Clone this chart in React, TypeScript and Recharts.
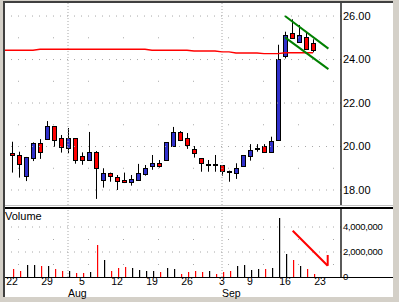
import { Bar, ComposedChart, Line, ReferenceLine, XAxis, YAxis } from "recharts";

// trading days, first one only carries the moving average (left edge)
const days = [
  "Jul 19", "Jul 22", "Jul 23", "Jul 24", "Jul 25", "Jul 26", "Jul 29", "Jul 30", "Jul 31",
  "Aug 1", "Aug 2", "Aug 5", "Aug 6", "Aug 7", "Aug 8", "Aug 9", "Aug 12", "Aug 13", "Aug 14",
  "Aug 15", "Aug 16", "Aug 19", "Aug 20", "Aug 21", "Aug 22", "Aug 23", "Aug 26", "Aug 27",
  "Aug 28", "Aug 29", "Aug 30", "Sep 3", "Sep 4", "Sep 5", "Sep 6", "Sep 9", "Sep 10", "Sep 11",
  "Sep 12", "Sep 13", "Sep 16", "Sep 17", "Sep 18", "Sep 19", "Sep 20",
];

const opens = [
  null, 19.69, 19.61, 18.66, 19.49, 20.15, 20.36, 20.93, 20.39, 19.92, 20.39, 19.55, 19.36, 19.73,
  18.48, 18.77, 18.61, 18.44, 18.38, 18.48, 18.75, 19.12, 19.24, 19.39, 20.04, 20.65, 20.39, 19.89,
  19.46, 19.17, 19.2, 19.15, 18.88, 18.77, 19.1, 19.58, 19.89, 20.01, 19.76, 20.28, 24.16, 25.2,
  24.79, 25.05, 24.74,
];
const highs = [
  null, 20.22, 19.76, 19.52, 20.19, 20.34, 21.17, 20.93, 20.53, 20.85, 20.39, 19.73, 20.67, 19.79,
  19.0, 18.8, 18.69, 18.8, 18.69, 19.2, 19.15, 19.61, 19.38, 20.19, 20.9, 20.71, 20.62, 20.02,
  19.46, 19.38, 19.61, 19.15, 18.89, 19.23, 19.61, 20.11, 20.11, 20.11, 20.45, 24.68, 25.28, 25.85,
  25.59, 25.28, 24.93,
];
const lows = [
  null, 18.8, 18.57, 18.41, 19.33, 19.43, 20.31, 19.99, 19.72, 19.69, 19.21, 19.16, 19.36, 17.59,
  18.11, 18.38, 18.0, 18.32, 18.2, 18.48, 18.66, 18.93, 19.03, 19.39, 20.04, 20.25, 19.89, 19.49,
  18.84, 18.84, 18.84, 18.66, 18.38, 18.51, 19.1, 19.35, 19.76, 19.76, 19.76, 20.28, 24.05, 24.97,
  24.79, 24.48, 24.33,
];
const closes = [
  null, 19.59, 19.18, 19.52, 20.15, 19.76, 20.93, 20.31, 19.96, 20.39, 19.39, 19.36, 19.73, 19.0,
  18.77, 18.66, 18.43, 18.37, 18.49, 18.77, 19.0, 19.24, 19.12, 20.19, 20.65, 20.31, 20.08, 19.72,
  19.23, 19.2, 19.18, 18.87, 18.86, 19.0, 19.61, 19.82, 19.92, 19.76, 20.24, 24.01, 25.11, 24.97,
  25.11, 24.48, 24.45,
];
const volumes = [
  null, 640000, 480000, 960000, 960000, 880000, 880000, 640000, 480000, 480000, 320000, 320000,
  400000, 2560000, 1360000, 480000, 720000, 800000, 720000, 560000, 480000, 480000, 400000, 720000,
  640000, 240000, 400000, 480000, 400000, 480000, 240000, 400000, 480000, 880000, 960000, 560000,
  640000, 640000, 720000, 4720000, 1840000, 1360000, 880000, 640000, 240000,
];
const movingAvg = [
  24.43, 24.43, 24.43, 24.43, 24.43, 24.47, 24.47, 24.47, 24.47, 24.47, 24.47, 24.47, 24.47, 24.47,
  24.47, 24.47, 24.47, 24.47, 24.47, 24.47, 24.47, 24.43, 24.43, 24.43, 24.43, 24.43, 24.43, 24.39,
  24.39, 24.39, 24.39, 24.35, 24.35, 24.3, 24.3, 24.3, 24.3, 24.27, 24.27, 24.27, 24.31, 24.31,
  24.31, 24.31, 24.31,
];

const weekTicks = [0, 5, 10, 15, 20, 25, 30, 34, 39, 44];
const weekLabels = ["22", "29", "5", "12", "19", "26", "3", "9", "16", "23"];
const months = [
  { at: 8, name: "Aug" },
  { at: 30, name: "Sep" },
];
const priceTicks = [18, 20, 22, 24, 26];
const priceMinor = [19, 21, 23, 25];
const volumeTicks = [0, 2000000, 4000000];
const volumeMinor = [1000000, 3000000];

const upperTrend = [{ x: 39, y: 26.0 }, { x: 45.2, y: 24.5 }];
const lowerTrend = [{ x: 39, y: 25.02 }, { x: 45.2, y: 23.56 }];
const volumeArrow = [{ x: 40.1, y: 3700000 }, { x: 45.1, y: 900000 }];
const volumeArrowHead = [{ x: 45.1, y: 1760000 }, { x: 45.1, y: 900000 }];

const rows = days.map((day, k) => ({
  i: k - 1,
  day,
  open: opens[k],
  high: highs[k],
  low: lows[k],
  close: closes[k],
  volume: volumes[k],
  ma: movingAvg[k],
}));

const FONT = "'Liberation Sans', Arial, sans-serif";
const DOMAIN_X: [number, number] = [-1, 47];

function Candle(props: any) {
  const { x, y, width, height, payload } = props;
  if (payload.open == null || !Number.isFinite(y)) return null;
  const { open, close, high, low } = payload;
  const top = Math.min(y, y + height);
  const k = Math.abs(height) / (high - low);
  const py = (v: number) => top + (high - v) * k;
  const c = Math.round(x + width / 2);
  const up = close >= open;
  const bTop = Math.round(py(Math.max(open, close))) + 0.5;
  const bBot = Math.round(py(Math.min(open, close))) + 0.5;
  return (
    <g>
      <line x1={c + 0.5} x2={c + 0.5} y1={py(high)} y2={py(low)} stroke="#000" strokeWidth={1} />
      <rect
        x={c - 1.5}
        y={bTop}
        width={4}
        height={Math.max(bBot - bTop, 1)}
        fill={up ? "#3030cc" : "#ff0000"}
        stroke="#000"
        strokeWidth={1}
      />
    </g>
  );
}

function VolumeStick(props: any) {
  const { x, y, width, height, payload } = props;
  if (!height || payload.volume == null) return null;
  const c = Math.round(x + width / 2);
  return (
    <rect
      x={c}
      y={y}
      width={1.2}
      height={height}
      fill={payload.close >= payload.open ? "#000" : "#ff0000"}
    />
  );
}

function DayTick(props: any) {
  const { x, y, payload } = props;
  const idx = weekTicks.indexOf(payload.value);
  return (
    <text x={x} y={y} dy={6} textAnchor="middle" fontSize={10.5} fontFamily={FONT} fill="#000">
      {weekLabels[idx]}
    </text>
  );
}

function monthLabel(name: string) {
  return (p: any) => {
    const vb = p.viewBox;
    if (!vb) return null;
    return (
      <text x={vb.x} y={vb.y + vb.height + 20} fontSize={10.5} fontFamily={FONT} fill="#000">
        {name}
      </text>
    );
  };
}

export default function App() {
  return (
    <div style={{ position: "relative", width: 399, height: 302, background: "#d4d0c8", fontFamily: FONT, overflow: "hidden" }}>
      <style>{`body{margin:0}`}</style>
      <div
        style={{
          position: "absolute",
          left: 3,
          top: 1,
          width: 390,
          height: 296,
          boxSizing: "border-box",
          background: "#fff",
          borderTop: "2px solid #404040",
          borderLeft: "2px solid #404040",
        }}
      />
      <div style={{ position: "absolute", left: 5, top: 3 }}>
        <ComposedChart width={388} height={202} data={rows} margin={{ top: 0, right: 0, bottom: 0, left: 0 }}>
          <XAxis dataKey="i" type="number" domain={DOMAIN_X} hide allowDataOverflow />
          <YAxis
            orientation="right"
            width={52}
            domain={[17.31, 26.6]}
            allowDataOverflow
            ticks={priceTicks}
            tickFormatter={(v: number) => v.toFixed(2)}
            tickLine={false}
            tickSize={0}
            tickMargin={2}
            axisLine={{ stroke: "#000", strokeWidth: 1.3 }}
            tick={{ fill: "#000", fontSize: 11, fontFamily: FONT }}
          />
          {priceTicks.map((v) => (
            <ReferenceLine key={"pg" + v} y={v} stroke="#a8a8a8" strokeDasharray="1 6" />
          ))}
          {priceMinor.map((v) => (
            <ReferenceLine key={"pm" + v} y={v} stroke="#a8a8a8" strokeDasharray="1 34" strokeDashoffset={28} />
          ))}
          {months.map((m) => (
            <ReferenceLine key={"pmo" + m.at} x={m.at} stroke="#a8a8a8" strokeDasharray="1 2" />
          ))}
          <Line
            dataKey="ma"
            type="linear"
            stroke="#ff0000"
            strokeWidth={1.4}
            dot={false}
            activeDot={false}
            isAnimationActive={false}
          />
          <Bar
            dataKey={(d: any) => (d.open == null ? null : [d.low, d.high])}
            barSize={5}
            shape={<Candle />}
            isAnimationActive={false}
          />
          <ReferenceLine segment={upperTrend} stroke="#008000" strokeWidth={2} />
          <ReferenceLine segment={lowerTrend} stroke="#008000" strokeWidth={2} />
        </ComposedChart>
      </div>
      <div style={{ position: "absolute", left: 5, top: 205, width: 388, height: 1, background: "#c0c0c0" }} />
      <div style={{ position: "absolute", left: 5, top: 207, width: 388, height: 2, background: "#000" }} />
      <div style={{ position: "absolute", left: 5, top: 209 }}>
        <ComposedChart width={388} height={93} data={rows} margin={{ top: 0, right: 0, bottom: 6, left: 0 }}>
          <XAxis
            dataKey="i"
            type="number"
            domain={DOMAIN_X}
            allowDataOverflow
            ticks={weekTicks}
            interval={0}
            axisLine={false}
            tickLine={false}
            tickSize={0}
            tickMargin={2}
            height={19}
            tick={<DayTick />}
          />
          <YAxis
            orientation="right"
            width={52}
            domain={[0, 5440000]}
            allowDataOverflow
            ticks={volumeTicks}
            tickFormatter={(v: number) => v.toLocaleString("en-US")}
            tickLine={false}
            tickSize={0}
            tickMargin={2}
            axisLine={{ stroke: "#000", strokeWidth: 1.3 }}
            tick={{ fill: "#000", fontSize: 9.5, fontFamily: FONT, letterSpacing: -0.3 }}
          />
          {volumeTicks.slice(1).map((v) => (
            <ReferenceLine key={"vg" + v} y={v} stroke="#a8a8a8" strokeDasharray="1 6" />
          ))}
          {volumeMinor.map((v) => (
            <ReferenceLine key={"vm" + v} y={v} stroke="#a8a8a8" strokeDasharray="1 34" strokeDashoffset={28} />
          ))}
          {months.map((m) => (
            <ReferenceLine
              key={"vmo" + m.at}
              x={m.at}
              stroke="#a8a8a8"
              strokeDasharray="1 2"
              label={{ value: m.name, content: monthLabel(m.name) }}
            />
          ))}
          <Bar dataKey="volume" barSize={2} shape={<VolumeStick />} isAnimationActive={false} />
          <ReferenceLine segment={volumeArrow} stroke="#ff0000" strokeWidth={2} />
          <ReferenceLine segment={volumeArrowHead} stroke="#ff0000" strokeWidth={2} />
        </ComposedChart>
      </div>
      <div style={{ position: "absolute", left: 5, top: 277, width: 388, height: 1, background: "#000" }} />
      <div style={{ position: "absolute", left: 5, top: 211, fontSize: 11, lineHeight: "11px", color: "#000" }}>
        Volume
      </div>
    </div>
  );
}
